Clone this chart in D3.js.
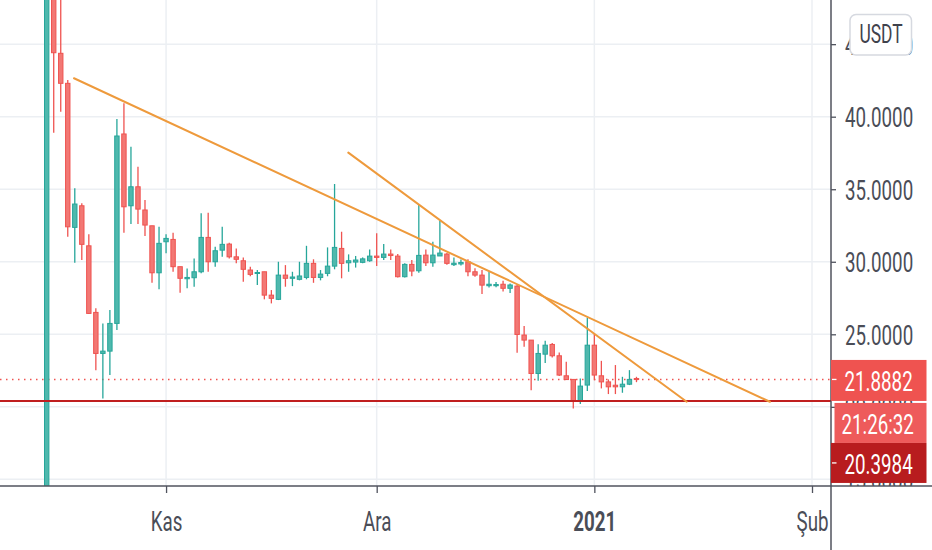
<!DOCTYPE html>
<html>
<head>
<meta charset="utf-8">
<script src="https://cdn.jsdelivr.net/npm/d3@7"></script>
<style>
  html, body { margin: 0; padding: 0; background: #fff; }
  svg { display: block; font-family: Roboto, "Noto Sans", sans-serif; }
</style>
</head>
<body>
<div id="chart"></div>
<script>
// daily candles, Oct 15 2020 -> Jan 7 2021
var dates = [
  "2020-10-15","2020-10-16","2020-10-17","2020-10-18","2020-10-19","2020-10-20","2020-10-21","2020-10-22","2020-10-23","2020-10-24",
  "2020-10-25","2020-10-26","2020-10-27","2020-10-28","2020-10-29","2020-10-30","2020-10-31","2020-11-01","2020-11-02","2020-11-03",
  "2020-11-04","2020-11-05","2020-11-06","2020-11-07","2020-11-08","2020-11-09","2020-11-10","2020-11-11","2020-11-12","2020-11-13",
  "2020-11-14","2020-11-15","2020-11-16","2020-11-17","2020-11-18","2020-11-19","2020-11-20","2020-11-21","2020-11-22","2020-11-23",
  "2020-11-24","2020-11-25","2020-11-26","2020-11-27","2020-11-28","2020-11-29","2020-11-30","2020-12-01","2020-12-02","2020-12-03",
  "2020-12-04","2020-12-05","2020-12-06","2020-12-07","2020-12-08","2020-12-09","2020-12-10","2020-12-11","2020-12-12","2020-12-13",
  "2020-12-14","2020-12-15","2020-12-16","2020-12-17","2020-12-18","2020-12-19","2020-12-20","2020-12-21","2020-12-22","2020-12-23",
  "2020-12-24","2020-12-25","2020-12-26","2020-12-27","2020-12-28","2020-12-29","2020-12-30","2020-12-31","2021-01-01","2021-01-02",
  "2021-01-03","2021-01-04","2021-01-05","2021-01-06","2021-01-07"
];
var opens = [
  12, 50, 44.37, 42.3, 32.37, 33.86, 31.1, 26.51, 23.68, 23.84,
  25.75, 38.81, 33.86, 35.17, 33.57, 32.48, 29.24, 31.38, 31.54, 29.66,
  28.83, 28.9, 29.31, 31.68, 30.0, 30.8, 31.22, 30.34, 30.07, 29.43,
  29.2, 29.31, 27.7, 27.41, 29.08, 28.86, 28.79, 28.92, 29.89, 28.92,
  29.2, 29.7, 30.92, 29.93, 29.98, 29.96, 30.07, 30.39, 30.3, 30.53,
  30.39, 28.97, 29.82, 29.38, 30.46, 29.93, 30.4, 30.53, 29.8, 29.85,
  30.0, 29.31, 29.08, 28.35, 28.35, 28.45, 28.17, 28.32, 24.95, 24.6,
  22.3, 23.63, 24.3, 23.52, 22.14, 21.89, 20.41, 21.5, 24.25, 22.14,
  21.72, 21.49, 21.38, 21.56, 21.95
];
var highs = [
  52, 53, 50, 42.53, 35.06, 34.03, 31.89, 26.79, 25.75, 26.67,
  39.84, 40.92, 37.93, 36.55, 34.26, 32.48, 32.41, 31.89, 32.0, 29.66,
  29.54, 30.23, 33.34, 33.38, 31.03, 32.41, 31.31, 30.92, 30.3, 29.66,
  29.43, 29.31, 28.05, 30.0, 29.77, 29.31, 30.0, 31.1, 30.17, 29.43,
  30.99, 35.36, 32.07, 30.51, 30.4, 30.3, 30.85, 31.96, 31.22, 30.85,
  30.53, 29.89, 30.12, 33.91, 30.85, 31.38, 32.83, 30.6, 30.3, 30.15,
  30.17, 29.55, 29.43, 29.31, 28.6, 28.7, 28.5, 28.39, 25.57, 24.6,
  24.32, 24.55, 24.4, 23.75, 23.1, 21.89, 21.96, 26.14, 25.06, 23.17,
  21.89, 22.88, 22.07, 22.53, 22.07
];
var lows = [
  11, 38.9, 40.34, 31.72, 29.93, 30.12, 26.4, 22.53, 20.58, 22.19,
  25.29, 32.0, 32.6, 32.6, 31.77, 28.55, 28.1, 30.58, 29.31, 27.86,
  28.17, 28.28, 29.2, 29.31, 29.66, 30.34, 30.23, 29.89, 28.62, 29.0,
  28.39, 27.41, 27.13, 27.36, 28.28, 28.32, 28.72, 28.79, 28.55, 28.72,
  29.0, 29.48, 28.86, 29.31, 29.6, 29.9, 30.0, 29.7, 30.12, 30.12,
  28.92, 28.92, 29.0, 29.24, 29.7, 29.66, 30.39, 29.8, 29.7, 29.75,
  29.0, 28.97, 27.77, 28.23, 28.25, 27.95, 27.85, 23.72, 24.14, 21.15,
  21.79, 23.03, 23.4, 22.12, 21.85, 19.89, 20.19, 21.1, 21.84, 21.27,
  20.88, 20.88, 20.97, 21.5, 21.7
];
var closes = [
  50, 44.41, 42.3, 32.41, 33.98, 31.2, 26.44, 23.68, 23.84, 25.75,
  38.67, 33.79, 35.17, 33.63, 32.53, 29.24, 31.27, 31.61, 29.66, 28.86,
  28.92, 29.31, 31.68, 30.0, 30.76, 31.2, 30.34, 30.17, 29.48, 29.13,
  29.26, 27.7, 27.48, 29.08, 28.86, 28.95, 29.02, 29.89, 28.92, 29.15,
  29.7, 30.99, 29.89, 30.07, 30.12, 30.2, 30.39, 30.3, 30.53, 30.43,
  28.97, 29.82, 29.36, 30.44, 29.93, 30.46, 30.6, 29.89, 29.9, 29.95,
  29.31, 29.08, 28.39, 28.45, 28.43, 28.17, 28.4, 24.99, 24.6, 22.3,
  23.68, 24.25, 23.52, 22.19, 21.88, 20.41, 21.43, 24.25, 22.19, 21.72,
  21.38, 21.38, 21.56, 21.89, 21.8882
];

// drawn trend lines: [start, end] as [time, price]
var trendLines = [
  [["2020-10-18T21:20", 42.65], ["2021-01-26T00:00", 20.35]],
  [["2020-11-26T23:00", 37.52], ["2021-01-14T03:30", 20.35]]
];
var supportLevel = 20.3984;
var lastPrice = 21.8882;
var countdown = "21:26:32";
var currency = "USDT";

var priceTicks = [15, 20, 25, 30, 35, 40, 45];
var monthTicks = ["2020-11-01", "2020-12-01", "2021-01-01", "2021-02-01"];
var monthLabels = ["Kas", "Ara", "2021", "Şub"];

var W = 932, H = 550;
var plotRight = 831, plotBottom = 486;
var SX = 0.67; // the screenshot text is horizontally squeezed
var upColor = "#26a69a", downColor = "#ef5350";
var textColor = "#4a4d57", axisColor = "#50535e", gridColor = "#eceff3";

var parseDay = d3.timeParse("%Y-%m-%d");
var parseTime = d3.timeParse("%Y-%m-%dT%H:%M");

var candles = dates.map(function(d, i) {
  return {date: parseDay(d), o: opens[i], h: highs[i], l: lows[i], c: closes[i]};
});

var x = d3.scaleTime()
  .domain([parseDay("2020-10-15"), parseDay("2021-02-01")])
  .range([46.7, 812]);
var y = d3.scaleLinear()
  .domain([25, 40])
  .range([334.3, 116.7]);

var svg = d3.select("#chart").append("svg")
  .attr("width", W)
  .attr("height", H);

svg.append("defs").append("clipPath").attr("id", "plot-clip")
  .append("rect").attr("x", 0).attr("y", 0).attr("width", plotRight).attr("height", plotBottom);
svg.select("defs").append("clipPath").attr("id", "axis-clip")
  .append("rect").attr("x", plotRight).attr("y", 0).attr("width", W - plotRight).attr("height", plotBottom);

var plot = svg.append("g").attr("clip-path", "url(#plot-clip)");

// grid
plot.selectAll(".hgrid").data(priceTicks).enter().append("line")
  .attr("x1", 0).attr("x2", plotRight)
  .attr("y1", function(d) { return y(d); })
  .attr("y2", function(d) { return y(d); })
  .attr("stroke", gridColor).attr("stroke-width", 1.5);
plot.selectAll(".vgrid").data(monthTicks).enter().append("line")
  .attr("x1", function(d) { return x(parseDay(d)); })
  .attr("x2", function(d) { return x(parseDay(d)); })
  .attr("y1", 0).attr("y2", plotBottom)
  .attr("stroke", gridColor).attr("stroke-width", 1.5);

// last price dotted line
plot.append("line")
  .attr("x1", 0).attr("x2", plotRight)
  .attr("y1", y(lastPrice)).attr("y2", y(lastPrice))
  .attr("stroke", downColor).attr("stroke-width", 1.5)
  .attr("stroke-dasharray", "1.5 4.5");

// candles
var cg = plot.selectAll(".candle").data(candles).enter().append("g")
  .attr("class", "candle");
cg.append("line")
  .attr("x1", function(d) { return x(d.date); })
  .attr("x2", function(d) { return x(d.date); })
  .attr("y1", function(d) { return y(d.h); })
  .attr("y2", function(d) { return y(d.l); })
  .attr("stroke", function(d) { return d.c >= d.o ? upColor : downColor; })
  .attr("stroke-width", 1.3);
cg.append("rect")
  .attr("x", function(d) { return x(d.date) - 2.2; })
  .attr("width", 4.4)
  .attr("y", function(d) { return y(Math.max(d.o, d.c)); })
  .attr("height", function(d) { return Math.max(1, Math.abs(y(d.o) - y(d.c))); })
  .attr("fill", function(d) { return d.c >= d.o ? "#4fb8ad" : "#f27874"; })
  .attr("stroke", function(d) { return d.c >= d.o ? upColor : downColor; })
  .attr("stroke-width", 1);

// support line
plot.append("line")
  .attr("x1", 0).attr("x2", plotRight)
  .attr("y1", y(supportLevel)).attr("y2", y(supportLevel))
  .attr("stroke", "#c01f1f").attr("stroke-width", 2);

// trend lines
var tl = d3.line()
  .x(function(d) { return x(parseTime(d[0])); })
  .y(function(d) { return y(d[1]); });
plot.selectAll(".trend").data(trendLines).enter().append("path")
  .attr("d", tl)
  .attr("fill", "none")
  .attr("stroke", "#ee9a3c")
  .attr("stroke-width", 2)
  .attr("stroke-linecap", "round");

// price axis
var yAxis = svg.append("g")
  .attr("clip-path", "url(#axis-clip)")
  .append("g")
  .attr("transform", "translate(" + plotRight + ",0)")
  .call(d3.axisRight(y).tickValues(priceTicks).tickFormat(d3.format(".4f")).tickSize(5));
yAxis.select(".domain").remove();
yAxis.selectAll("line").attr("stroke", axisColor).attr("stroke-width", 1.3);
yAxis.selectAll("text")
  .attr("x", 0).attr("dy", "0.36em")
  .attr("transform", "translate(14,0) scale(" + SX + ",1)")
  .attr("fill", textColor)
  .style("font-size", "28px")
  .style("font-family", "Roboto");

// time axis
var xAxis = svg.append("g")
  .attr("transform", "translate(0," + plotBottom + ")")
  .call(d3.axisBottom(x)
    .tickValues(monthTicks.map(parseDay))
    .tickFormat(function(d, i) { return monthLabels[i]; })
    .tickSize(7));
xAxis.select(".domain").remove();
xAxis.selectAll("line").attr("stroke", axisColor).attr("stroke-width", 1.3);
xAxis.selectAll("text")
  .attr("y", 0).attr("dy", 0)
  .attr("transform", "translate(0,44.7) scale(" + SX + ",1)")
  .attr("fill", textColor)
  .style("font-size", "28px")
  .style("font-family", "Roboto")
  .style("font-weight", function(d, i) { return monthLabels[i] === "2021" ? "bold" : "normal"; });

// axis frame lines
svg.append("line")
  .attr("x1", 0).attr("x2", W)
  .attr("y1", plotBottom).attr("y2", plotBottom)
  .attr("stroke", axisColor).attr("stroke-width", 1.5);
svg.append("line")
  .attr("x1", plotRight).attr("x2", plotRight)
  .attr("y1", 0).attr("y2", H)
  .attr("stroke", axisColor).attr("stroke-width", 1.5);

// price labels on the axis
var boxTop = y(lastPrice) - 19.5;
var labels = [
  {text: d3.format(".4f")(lastPrice), x: plotRight, top: boxTop, h: 41, fill: "#ef5350", tick: y(lastPrice)},
  {text: countdown, x: plotRight + 3.5, top: boxTop + 43, h: 40, fill: "#ee5b5b", tick: null},
  {text: d3.format(".4f")(supportLevel), x: plotRight, top: boxTop + 83, h: 40, fill: "#b81c1e", tick: boxTop + 103}
];
var lg = svg.selectAll(".plabel").data(labels).enter().append("g");
lg.append("rect")
  .attr("x", function(d) { return d.x; })
  .attr("y", function(d) { return d.top; })
  .attr("width", function(d) { return 926.5 - d.x; })
  .attr("height", function(d) { return d.h; })
  .attr("fill", function(d) { return d.fill; });
lg.filter(function(d) { return d.tick !== null; }).append("line")
  .attr("x1", plotRight + 1).attr("x2", plotRight + 5.5)
  .attr("y1", function(d) { return d.tick; })
  .attr("y2", function(d) { return d.tick; })
  .attr("stroke", "#fff").attr("stroke-width", 1.3);
lg.append("text")
  .attr("transform", function(d) {
    return "translate(" + (d.tick === null ? 841.5 : 844.5) + "," + (d.top + 30.7) + ") scale(" + SX + ",1)";
  })
  .attr("fill", "#fff")
  .style("font-size", "28px")
  .style("font-family", "Roboto")
  .text(function(d) { return d.text; });

// currency button
svg.append("rect")
  .attr("x", 850).attr("y", 14.5)
  .attr("width", 61.5).attr("height", 40.5)
  .attr("rx", 6)
  .attr("fill", "#fff")
  .attr("stroke", "#d6d9e0").attr("stroke-width", 1.5);
svg.append("text")
  .attr("transform", "translate(881,43.3) scale(" + SX + ",1)")
  .attr("text-anchor", "middle")
  .attr("fill", "#3f424c")
  .style("font-size", "26px")
  .style("font-family", "Roboto")
  .text(currency);
</script>
</body>
</html>
